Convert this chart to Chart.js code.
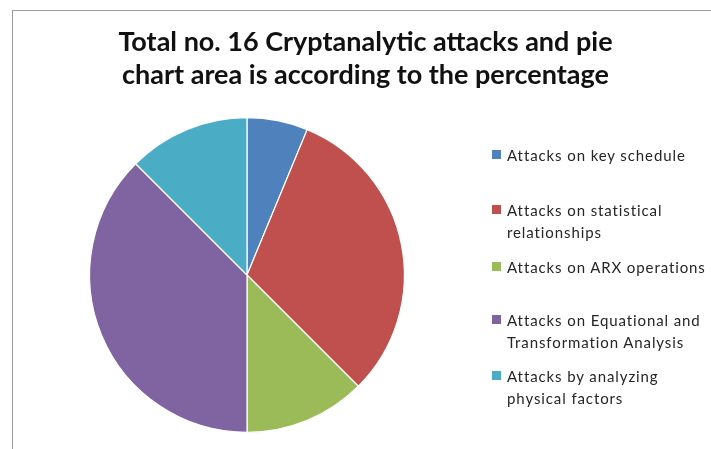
<!DOCTYPE html>
<html>
<head>
<meta charset="utf-8">
<script src="https://cdn.jsdelivr.net/npm/chart.js@4/dist/chart.umd.min.js"></script>
<style>
  html,body{margin:0;padding:0;background:#fff;}
  #wrap{position:relative;width:711px;height:449px;overflow:hidden;background:#fff;}
  #frame{position:absolute;left:12px;top:10px;width:760px;height:500px;border-left:1.5px solid #9a9a9a;border-top:1.5px solid #9a9a9a;}
  #c{position:absolute;left:0;top:0;}
  #title{position:absolute;left:0;width:731px;top:24px;text-align:center;font-family:Lato,sans-serif;font-weight:bold;font-size:27px;line-height:33px;color:#111;}
  #legend{position:absolute;left:492px;top:0;font-family:Lato,sans-serif;font-size:15px;letter-spacing:0.9px;line-height:22px;color:#262626;}
  .item{position:absolute;left:0;white-space:nowrap;}
  .sw{position:absolute;left:0;top:6px;width:9px;height:9px;}
  .tx{position:absolute;left:15px;top:0;}
</style>
</head>
<body>
<div id="wrap">
  <div id="frame"></div>
  <canvas id="c" width="711" height="449"></canvas>
  <div id="title"></div>
  <div id="legend"></div>
</div>
<script>
const titleLines = ["Total no. 16 Cryptanalytic attacks and pie", "chart area is according to the percentage"];
const categories = ["Attacks on key schedule", "Attacks on statistical relationships", "Attacks on ARX operations", "Attacks on Equational and Transformation Analysis", "Attacks by analyzing physical factors"];
const legendLines = [["Attacks on key schedule"], ["Attacks on statistical", "relationships"], ["Attacks on ARX operations"], ["Attacks on Equational and", "Transformation Analysis"], ["Attacks by analyzing", "physical factors"]];
const attackCounts = [1, 5, 2, 6, 2];
const colors = ["#4F81BD", "#C0504D", "#9BBB59", "#8064A2", "#4BACC6"];
const legendTops = [144, 199, 256, 309, 365];

document.getElementById('title').innerHTML = titleLines.join('<br>');
const lg = document.getElementById('legend');
legendLines.forEach((lines, i) => {
  const d = document.createElement('div');
  d.className = 'item';
  d.style.top = legendTops[i] + 'px';
  const s = document.createElement('div');
  s.className = 'sw'; s.style.background = colors[i];
  const t = document.createElement('div');
  t.className = 'tx'; t.innerHTML = lines.join('<br>');
  d.appendChild(s); d.appendChild(t);
  lg.appendChild(d);
});

new Chart(document.getElementById('c'), {
  type: 'pie',
  data: {
    labels: categories,
    datasets: [{
      data: attackCounts,
      backgroundColor: colors,
      borderColor: '#ffffff',
      borderWidth: 1.2
    }]
  },
  options: {
    responsive: false,
    animation: false,
    layout: { padding: { left: 89, right: 306, top: 117, bottom: 16 } },
    plugins: { legend: { display: false }, title: { display: false }, tooltip: { enabled: false } }
  }
});
</script>
</body>
</html>
